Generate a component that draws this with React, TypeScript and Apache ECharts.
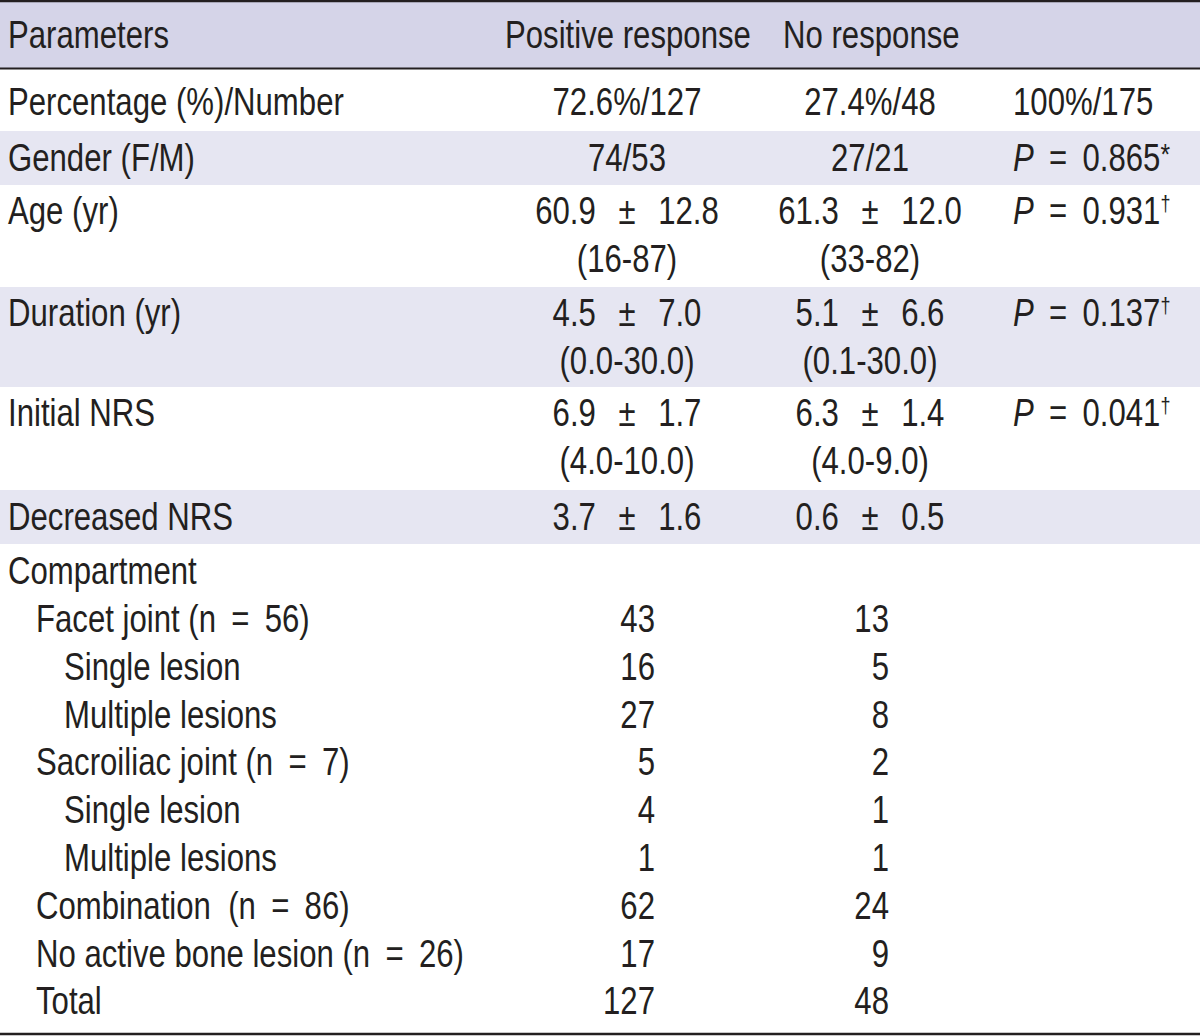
import React, { useEffect, useRef } from "react";
import * as echarts from "echarts";

// ---------- data ----------
const headerLabels = ["Parameters", "Positive response", "No response"];

const summaryLabels = [
  "Percentage (%)/Number",
  "Gender (F/M)",
  "Age (yr)",
  "Duration (yr)",
  "Initial NRS",
  "Decreased NRS",
];
const summaryPositive = [
  ["72.6%/127"],
  ["74/53"],
  ["60.9 ± 12.8", "(16-87)"],
  ["4.5 ± 7.0", "(0.0-30.0)"],
  ["6.9 ± 1.7", "(4.0-10.0)"],
  ["3.7 ± 1.6"],
];
const summaryNo = [
  ["27.4%/48"],
  ["27/21"],
  ["61.3 ± 12.0", "(33-82)"],
  ["5.1 ± 6.6", "(0.1-30.0)"],
  ["6.3 ± 1.4", "(4.0-9.0)"],
  ["0.6 ± 0.5"],
];
const summaryStatText = ["100%/175", "", "", "", "", ""];
const summaryPValues = ["", "0.865", "0.931", "0.137", "0.041", ""];
const summaryMarks = ["", "*", "†", "†", "†", ""];

const compartmentLabels = [
  "Compartment",
  "Facet joint (n = 56)",
  "Single lesion",
  "Multiple lesions",
  "Sacroiliac joint (n = 7)",
  "Single lesion",
  "Multiple lesions",
  "Combination  (n = 86)",
  "No active bone lesion (n = 26)",
  "Total",
];
const compartmentLevels = [0, 1, 2, 2, 1, 2, 2, 1, 1, 1];
const compartmentPositive = [null, 43, 16, 27, 5, 4, 1, 62, 17, 127];
const compartmentNo = [null, 13, 5, 8, 2, 1, 1, 24, 9, 48];

// ---------- layout / style ----------
const W = 1200;
const H = 1036;
const FONT = '"Liberation Sans", Arial, sans-serif';
const FS = 38;
const NARROW = 0.82;
const TEXT = "#231f20";
const HEADER_BG = "#d5d4e8";
const SHADE_BG = "#e6e6f2";
const LINE = "#231f20";

const labelX = 8;
const indent = 28;
const posCenter = 627;
const noCenter = 870;
const statX = 1013;
const posRight = 655;
const noRight = 889;
const headerX = [8, 505, 783];
const headerY = 35;

const summaryBounds = [70, 131, 185, 287, 387, 490, 544];
const summaryShaded = [false, true, false, true, false, true];
const firstLineOffset = 26;
const lineStep = 48;

const compStartY = 571;
const compStep = 47.8;

const RICH = {
  i: { fontStyle: "italic", fontSize: FS, fontFamily: FONT, fill: TEXT },
  pm: { fontSize: FS, fontFamily: FONT, fill: TEXT, padding: [0, 17, 0, 17] },
  eq: { fontSize: FS, fontFamily: FONT, fill: TEXT, padding: [0, 8, 0, 8] },
  star: { fontSize: 30, fontFamily: FONT, fill: TEXT, verticalAlign: "top" },
  dag: { fontSize: 22, fontFamily: FONT, fill: TEXT, verticalAlign: "top" },
};

const richify = (s: string) => s.replace(/±/g, "{pm|±}").replace(/=/g, "{eq|=}");

function App() {
  const ref = useRef<HTMLDivElement>(null);
  useEffect(() => {
    if (!ref.current) return;
    const chart = echarts.init(ref.current, null, { renderer: "svg" });
    const els: any[] = [];
    const txt = (x: number, y: number, text: string, align: string) => ({
      type: "text",
      x,
      y,
      scaleX: NARROW,
      style: {
        text,
        fill: TEXT,
        fontSize: FS,
        fontFamily: FONT,
        align,
        verticalAlign: "middle",
        rich: RICH,
      },
      z: 10,
    });

    // backgrounds
    els.push({ type: "rect", shape: { x: 0, y: 0, width: W, height: 68 }, style: { fill: HEADER_BG }, z: 1 });
    summaryLabels.forEach((_, i) => {
      if (summaryShaded[i]) {
        els.push({
          type: "rect",
          shape: { x: 0, y: summaryBounds[i], width: W, height: summaryBounds[i + 1] - summaryBounds[i] },
          style: { fill: SHADE_BG },
          z: 1,
        });
      }
    });
    // rules
    els.push({ type: "line", shape: { x1: 0, y1: 1, x2: W, y2: 1 }, style: { stroke: LINE, lineWidth: 2.5 }, z: 5 });
    els.push({ type: "line", shape: { x1: 0, y1: 68.5, x2: W, y2: 68.5 }, style: { stroke: LINE, lineWidth: 2 }, z: 5 });
    els.push({ type: "line", shape: { x1: 0, y1: 1034, x2: W, y2: 1034 }, style: { stroke: LINE, lineWidth: 2.5 }, z: 5 });

    // header
    headerLabels.forEach((h, i) => els.push(txt(headerX[i], headerY, h, "left")));

    // summary rows
    summaryLabels.forEach((label, i) => {
      const top = summaryBounds[i];
      const bottom = summaryBounds[i + 1];
      const nLines = summaryPositive[i].length;
      const lineY = (k: number) =>
        nLines === 1 ? (top + bottom) / 2 + (i === 0 ? 1.5 : 0) : top + firstLineOffset + k * lineStep;
      els.push(txt(labelX, lineY(0), richify(label), "left"));
      summaryPositive[i].forEach((v, k) => els.push(txt(posCenter, lineY(k), richify(v), "center")));
      summaryNo[i].forEach((v, k) => els.push(txt(noCenter, lineY(k), richify(v), "center")));
      if (summaryStatText[i]) {
        els.push(txt(statX, lineY(0), richify(summaryStatText[i]), "left"));
      } else if (summaryPValues[i]) {
        const markStyle = summaryMarks[i] === "*" ? "star" : "dag";
        els.push(
          txt(statX, lineY(0), `{i|P} {eq|=} ${summaryPValues[i]}{${markStyle}|${summaryMarks[i]}}`, "left")
        );
      }
    });

    // compartment rows
    compartmentLabels.forEach((label, i) => {
      const y = compStartY + i * compStep;
      els.push(txt(labelX + compartmentLevels[i] * indent, y, richify(label), "left"));
      if (compartmentPositive[i] !== null) els.push(txt(posRight, y, String(compartmentPositive[i]), "right"));
      if (compartmentNo[i] !== null) els.push(txt(noRight, y, String(compartmentNo[i]), "right"));
    });

    chart.setOption({
      animation: false,
      backgroundColor: "#ffffff",
      graphic: { elements: els },
    });
    return () => chart.dispose();
  }, []);
  return <div ref={ref} style={{ position: "absolute", left: 0, top: 0, width: W, height: H }} />;
}

export default App;
